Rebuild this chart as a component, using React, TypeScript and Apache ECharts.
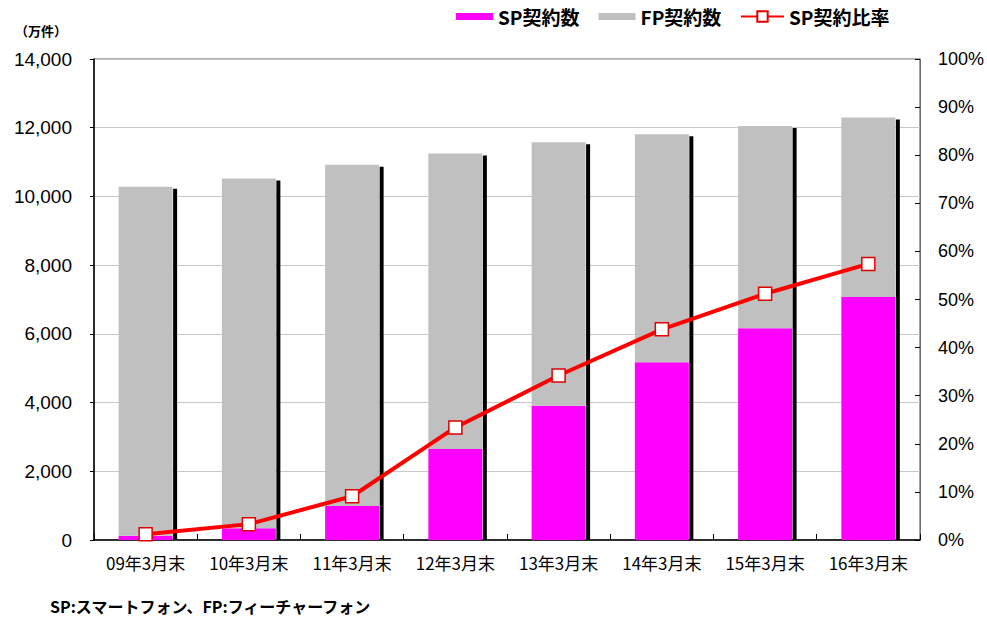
import React, { useEffect, useRef } from "react";
import * as echarts from "echarts";

const categories = ["09年3月末", "10年3月末", "11年3月末", "12年3月末", "13年3月末", "14年3月末", "15年3月末", "16年3月末"];
const spContracts = [125, 340, 990, 2650, 3910, 5170, 6160, 7070];
const fpContracts = [10155, 10180, 9930, 8600, 7670, 6640, 5890, 5230];
const spRatio = [1.2, 3.3, 9.1, 23.4, 34.2, 43.8, 51.2, 57.4];
const leftTicks = { min: 0, max: 14000, interval: 2000 };
const rightTicks = { min: 0, max: 100, interval: 10 };

const JP = '"Noto Sans CJK JP", sans-serif';
const NUM = '"Liberation Sans", Arial, sans-serif';
const BAR_W = 54;

export default function App() {
  const ref = useRef<HTMLDivElement>(null);
  useEffect(() => {
    if (!ref.current) return;
    const chart = echarts.init(ref.current, null, { renderer: "svg" });
    const totals = spContracts.map((v, i) => [i, v + fpContracts[i]]);
    chart.setOption({
      animation: false,
      backgroundColor: "#ffffff",
      grid: {
        left: 94,
        right: 62,
        top: 59,
        bottom: 78,
        show: true,
        borderColor: "#555555",
        borderWidth: 1,
      },
      legend: [
        {
          data: [
            { name: "SP契約数", icon: "rect" },
            { name: "FP契約数", icon: "rect" },
          ],
          left: 456,
          top: 7,
          padding: 0,
          itemWidth: 37,
          itemHeight: 7,
          itemGap: 19,
          textStyle: { fontFamily: JP, fontSize: 19, fontWeight: "bold", color: "#000" },
        },
        {
          data: ["SP契約比率"],
          left: 740,
          top: 7,
          padding: 0,
          itemWidth: 43,
          itemHeight: 13,
          textStyle: { fontFamily: JP, fontSize: 19, fontWeight: "bold", color: "#000" },
        },
      ],
      xAxis: {
        type: "category",
        data: categories,
        boundaryGap: true,
        axisLine: { lineStyle: { color: "#000", width: 1.5 } },
        axisTick: { show: true, inside: true, length: 6, lineStyle: { color: "#000" } },
        axisLabel: { fontFamily: JP, fontSize: 17, color: "#000", margin: 14, interval: 0 },
        splitLine: { show: false },
      },
      yAxis: [
        {
          type: "value",
          min: leftTicks.min,
          max: leftTicks.max,
          interval: leftTicks.interval,
          axisLine: { show: true, lineStyle: { color: "#000", width: 1.5 } },
          axisTick: { show: true, inside: false, length: 4, lineStyle: { color: "#000" } },
          axisLabel: {
            fontFamily: NUM,
            fontSize: 19,
            color: "#000",
            margin: 22,
            formatter: (v: number) => v.toLocaleString("en-US"),
          },
          splitLine: { show: true, lineStyle: { color: "#c8c8c8", width: 1 } },
        },
        {
          type: "value",
          min: rightTicks.min,
          max: rightTicks.max,
          interval: rightTicks.interval,
          position: "right",
          axisLine: { show: true, lineStyle: { color: "#707070", width: 1 } },
          axisTick: { show: true, inside: true, length: 5, lineStyle: { color: "#000" } },
          axisLabel: { fontFamily: NUM, fontSize: 18, color: "#000", margin: 18, formatter: "{value}%" },
          splitLine: { show: false },
        },
      ],
      graphic: [
        {
          type: "text",
          left: 15,
          top: 24,
          style: { text: "（万件）", font: `bold 13px ${JP}`, fill: "#000" },
        },
        {
          type: "text",
          left: 50,
          top: 598,
          style: { text: "SP:スマートフォン、FP:フィーチャーフォン", font: `bold 16px ${JP}`, fill: "#000" },
        },
      ],
      series: [
        {
          name: "SP契約数",
          type: "bar",
          stack: "total",
          barWidth: BAR_W,
          data: spContracts,
          itemStyle: { color: "#ff00ff" },
          z: 3,
        },
        {
          name: "FP契約数",
          type: "bar",
          stack: "total",
          barWidth: BAR_W,
          data: fpContracts,
          itemStyle: { color: "#c0c0c0" },
          z: 3,
        },
        {
          name: "shadow",
          type: "custom",
          data: totals,
          encode: { x: 0, y: 1 },
          z: 3,
          renderItem: (params: any, api: any) => {
            const idx = api.value(0);
            const top = api.coord([idx, api.value(1)]);
            const base = api.coord([idx, 0]);
            return {
              type: "rect",
              shape: { x: top[0] + BAR_W / 2 + 0.5, y: top[1] + 2, width: 4, height: base[1] - top[1] - 2 },
              style: { fill: "#000" },
            };
          },
        },
        {
          name: "SP契約比率",
          type: "line",
          yAxisIndex: 1,
          data: spRatio,
          symbol: "rect",
          symbolSize: 13,
          lineStyle: { color: "#ff0000", width: 4 },
          itemStyle: { color: "#ffffff", borderColor: "#e00000", borderWidth: 1.5 },
          z: 5,
        },
      ],
    });
    return () => chart.dispose();
  }, []);
  return <div ref={ref} style={{ position: "fixed", left: 0, top: 0, width: 987, height: 618 }} />;
}
